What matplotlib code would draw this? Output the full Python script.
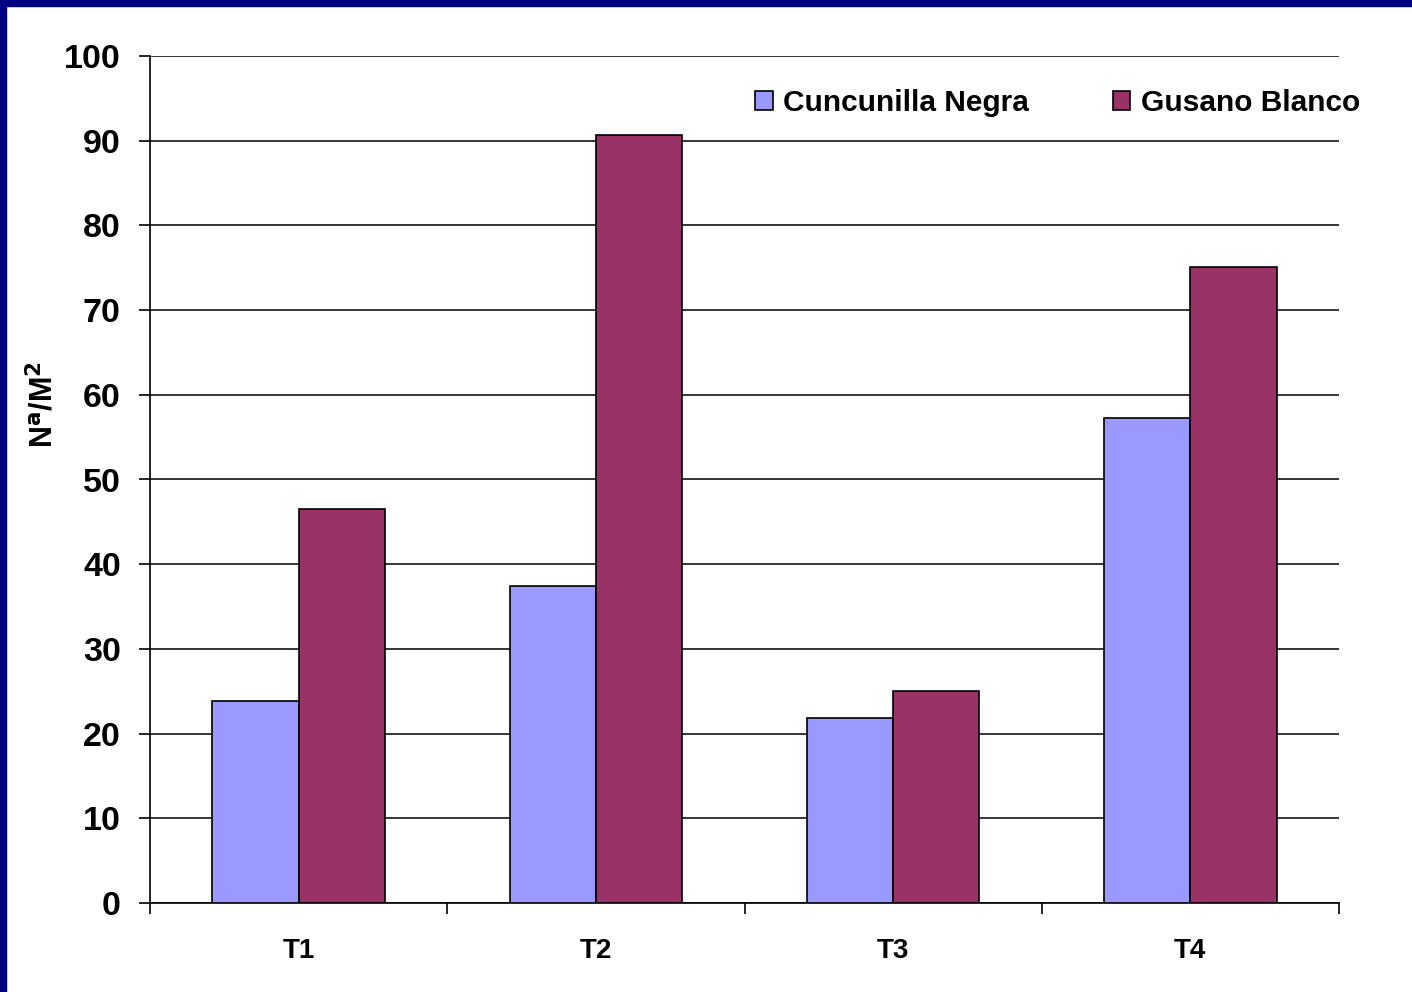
import matplotlib.pyplot as plt
import matplotlib.patches as mpatches
import numpy as np

plt.rcParams['font.family'] = ['Liberation Sans', 'DejaVu Sans']
plt.rcParams['font.weight'] = 'bold'

# density per treatment
categories = ['T1', 'T2', 'T3', 'T4']
cuncunilla = [23.8, 37.4, 21.8, 57.3]
gusano = [46.5, 90.7, 25.0, 75.1]

fig = plt.figure(figsize=(14.12, 9.92), dpi=100)
ax = fig.add_axes([150 / 1412, 1 - 903 / 992, 1189 / 1412, 847 / 992])

x = np.arange(len(categories))
w = 0.29
ax.bar(x - w / 2, cuncunilla, w, color='#9999ff', edgecolor='black', linewidth=1.2,
       label='Cuncunilla Negra', zorder=3)
ax.bar(x + w / 2, gusano, w, color='#993366', edgecolor='black', linewidth=1.2,
       label='Gusano Blanco', zorder=3)

ax.set_xlim(-0.5, 3.5)
ax.set_ylim(0, 100)
ax.set_yticks(range(0, 101, 10))
ax.yaxis.grid(True, color='black', linewidth=1.1, zorder=0)

# ticks between categories on the x axis
ax.set_xticks(np.arange(-0.5, 4, 1))
ax.set_xticklabels([])
ax.set_xticks(x, minor=True)
ax.set_xticklabels(categories, minor=True, fontsize=20, fontweight='bold')
ax.tick_params(axis='x', which='minor', length=0, pad=25)
ax.tick_params(axis='x', which='major', length=8, width=1.2, direction='out')
ax.tick_params(axis='y', length=8, width=1.2, direction='out', labelsize=24.5, pad=13)

for s in ['top', 'right']:
    ax.spines[s].set_visible(False)
for s in ['left', 'bottom']:
    ax.spines[s].set_linewidth(1.2)

ax.set_ylabel('N$^{\\mathbf{a}}$/M$^{\\mathbf{2}}$', fontsize=22, fontweight='bold')
ax.yaxis.set_label_coords(-0.076, 0.588)

ax.legend(loc='center left', bbox_to_anchor=(0.486, 0.945), ncol=2, frameon=False,
          handlelength=0.6, handleheight=0.6, handletextpad=0.35,
          columnspacing=2.8, prop={'weight': 'bold', 'size': 21.5})

# navy frame strips along the top and left edges
fig.patches.append(mpatches.Rectangle((0, 1 - 6 / 992), 1, 6 / 992, transform=fig.transFigure,
                                      color='#000080', zorder=10))
fig.patches.append(mpatches.Rectangle((0, 0), 6 / 1412, 1, transform=fig.transFigure,
                                      color='#000080', zorder=10))

fig.savefig('out.png', dpi=100)
